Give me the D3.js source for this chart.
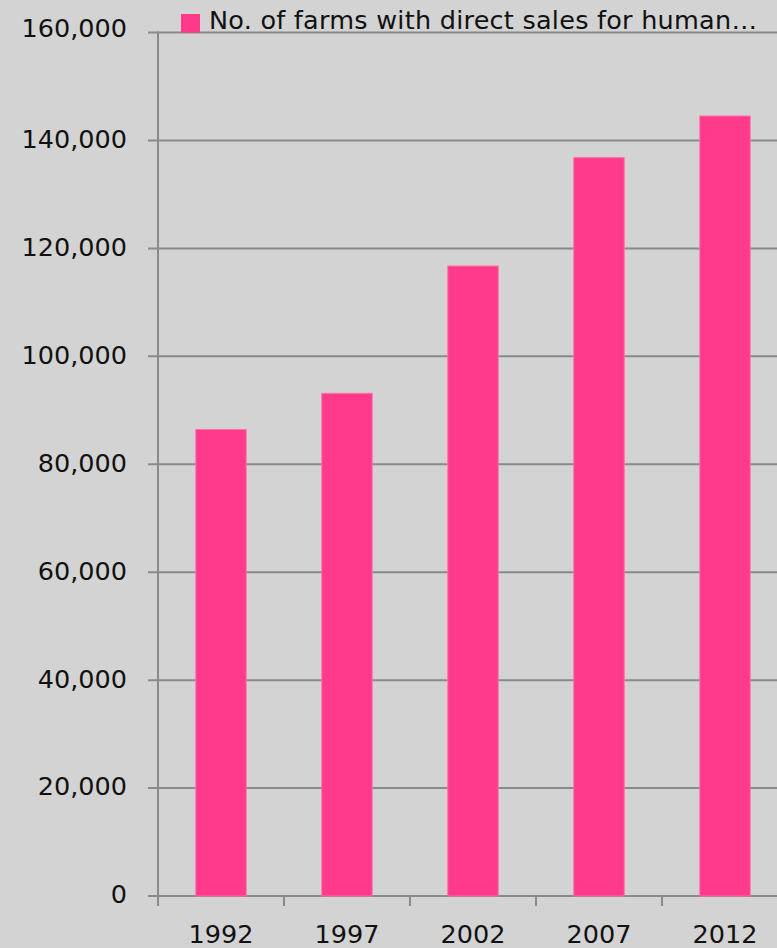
<!DOCTYPE html>
<html>
<head>
<meta charset="utf-8">
<script src="https://cdn.jsdelivr.net/npm/d3@7"></script>
<style>
  html, body { margin: 0; padding: 0; background: #d3d3d3; }
  svg { display: block; }
  text { font-family: "DejaVu Sans", Verdana, sans-serif; fill: #111; }
</style>
</head>
<body>
<svg id="chart" width="777" height="948"></svg>
<script>
const categories = ["1992", "1997", "2002", "2007", "2012"];
const values = [86432, 93140, 116733, 136817, 144530];
const seriesName = "No. of farms with direct sales for human…";
const yTicks = [0, 20000, 40000, 60000, 80000, 100000, 120000, 140000, 160000];

const W = 777, H = 948;
const mLeft = 158, mTop = 32.5, mBottom = 896;
const bandW = 126;

const svg = d3.select("#chart");
svg.append("rect").attr("width", W).attr("height", H).attr("fill", "#d3d3d3");

const x = d3.scaleBand().domain(categories).range([mLeft, mLeft + bandW * categories.length]).padding(0);
const y = d3.scaleLinear().domain([0, 160000]).range([mBottom, mTop]);

const fmt = d3.format(",");

// gridlines
svg.append("g").selectAll("line").data(yTicks).join("line")
  .attr("x1", mLeft - 10).attr("x2", W)
  .attr("y1", d => y(d)).attr("y2", d => y(d))
  .attr("stroke", "#8a8a8a").attr("stroke-width", 2);

// y labels
svg.append("g").selectAll("text").data(yTicks).join("text")
  .attr("x", 127).attr("y", d => y(d) - (d === 160000 ? 4.5 : 1.5))
  .attr("dy", "0.35em")
  .attr("text-anchor", "end")
  .attr("font-size", 25.5)
  .text(d => fmt(d));

// y axis line
svg.append("line").attr("x1", mLeft).attr("x2", mLeft).attr("y1", mTop - 1).attr("y2", mBottom + 10)
  .attr("stroke", "#8a8a8a").attr("stroke-width", 2);

// x ticks at band boundaries
const bounds = categories.map(c => x(c)).concat([x(categories[categories.length - 1]) + x.bandwidth()]);
svg.append("g").selectAll("line").data(bounds).join("line")
  .attr("x1", d => d).attr("x2", d => d)
  .attr("y1", mBottom).attr("y2", mBottom + 10)
  .attr("stroke", "#8a8a8a").attr("stroke-width", 2);

// bars
const barW = x.bandwidth() * 0.4;
svg.append("g").selectAll("rect").data(values).join("rect")
  .attr("x", (d, i) => x(categories[i]) + (x.bandwidth() - barW) / 2)
  .attr("y", d => y(d))
  .attr("width", barW)
  .attr("height", d => mBottom - y(d))
  .attr("fill", "#ff3a8a")
  .attr("stroke", "#ff6fa6").attr("stroke-width", 1);

// x labels
svg.append("g").selectAll("text").data(categories).join("text")
  .attr("x", d => x(d) + x.bandwidth() / 2)
  .attr("y", 943)
  .attr("text-anchor", "middle")
  .attr("font-size", 25.5)
  .text(d => d);

// legend
svg.append("rect").attr("x", 181).attr("y", 14).attr("width", 19).attr("height", 18.5).attr("fill", "#ff3a8a");
svg.append("text").attr("x", 209).attr("y", 29).attr("font-size", 25.5)
  .attr("letter-spacing", 0.25).text(seriesName);
</script>
</body>
</html>
